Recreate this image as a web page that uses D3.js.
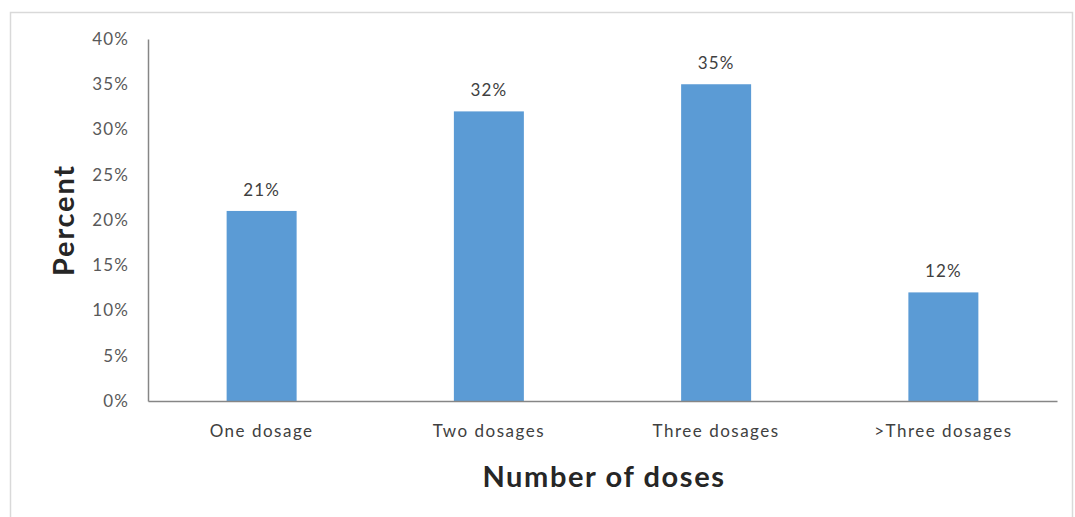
<!DOCTYPE html>
<html>
<head>
<meta charset="utf-8">
<script src="https://cdn.jsdelivr.net/npm/d3@7"></script>
<style>
  html, body { margin: 0; padding: 0; background: #fff; }
  svg { display: block; }
  text { font-family: Lato, "Open Sans", sans-serif; }
</style>
</head>
<body>
<svg id="chart" width="1075" height="517"></svg>
<script>
// Share of respondents by number of doses taken
const categories = ["One dosage", "Two dosages", "Three dosages", ">Three dosages"];
const percents = [21, 32, 35, 12];
const yTicks = [0, 5, 10, 15, 20, 25, 30, 35, 40];

const svg = d3.select("#chart");
const plot = { left: 148, right: 1057, top: 39, bottom: 401 };

// chart frame
svg.append("rect")
  .attr("x", 10.5).attr("y", 12.5)
  .attr("width", 1062).attr("height", 520)
  .attr("fill", "#fff").attr("stroke", "#d9d9d9").attr("stroke-width", 1.5);

const x = d3.scaleBand()
  .domain(categories)
  .range([plot.left, plot.right])
  .paddingInner(0.692)
  .paddingOuter(0.346);

const y = d3.scaleLinear()
  .domain([0, 40])
  .range([plot.bottom, plot.top]);

// bars
svg.append("g").selectAll("rect")
  .data(categories)
  .join("rect")
  .attr("x", d => x(d))
  .attr("y", (d, i) => y(percents[i]))
  .attr("width", x.bandwidth())
  .attr("height", (d, i) => y(0) - y(percents[i]))
  .attr("fill", "#5b9bd5");

// value labels
svg.append("g").selectAll("text")
  .data(categories)
  .join("text")
  .attr("x", d => x(d) + x.bandwidth() / 2)
  .attr("y", (d, i) => y(percents[i]) - 15)
  .attr("text-anchor", "middle")
  .attr("font-size", 17)
  .attr("letter-spacing", 1.1)
  .attr("fill", "#404040")
  .text((d, i) => percents[i] + "%");

// y axis
const yAxis = d3.axisLeft(y)
  .tickValues(yTicks)
  .tickFormat(d => d + "%")
  .tickSize(0)
  .tickPadding(19);
const gy = svg.append("g")
  .attr("transform", `translate(${plot.left},0)`)
  .call(yAxis);
gy.select(".domain").attr("stroke", "#868686").attr("stroke-width", 1.5);
gy.selectAll("text")
  .attr("font-size", 17)
  .attr("letter-spacing", 1.1)
  .attr("fill", "#595959");

// x axis
const xAxis = d3.axisBottom(x).tickSize(0).tickPadding(24);
const gx = svg.append("g")
  .attr("transform", `translate(0,${plot.bottom})`)
  .call(xAxis);
gx.select(".domain").attr("stroke", "#868686").attr("stroke-width", 1.5);
gx.selectAll("text")
  .attr("font-size", 17)
  .attr("letter-spacing", 1.5)
  .attr("fill", "#404040");

// axis titles
svg.append("text")
  .attr("x", 604).attr("y", 487)
  .attr("text-anchor", "middle")
  .attr("font-size", 29)
  .attr("letter-spacing", 1.6)
  .attr("font-weight", "bold")
  .attr("fill", "#262626")
  .text("Number of doses");

svg.append("text")
  .attr("transform", "translate(74,220) rotate(-90)")
  .attr("text-anchor", "middle")
  .attr("font-size", 29)
  .attr("letter-spacing", 1.8)
  .attr("font-weight", "bold")
  .attr("fill", "#262626")
  .text("Percent");
</script>
</body>
</html>
